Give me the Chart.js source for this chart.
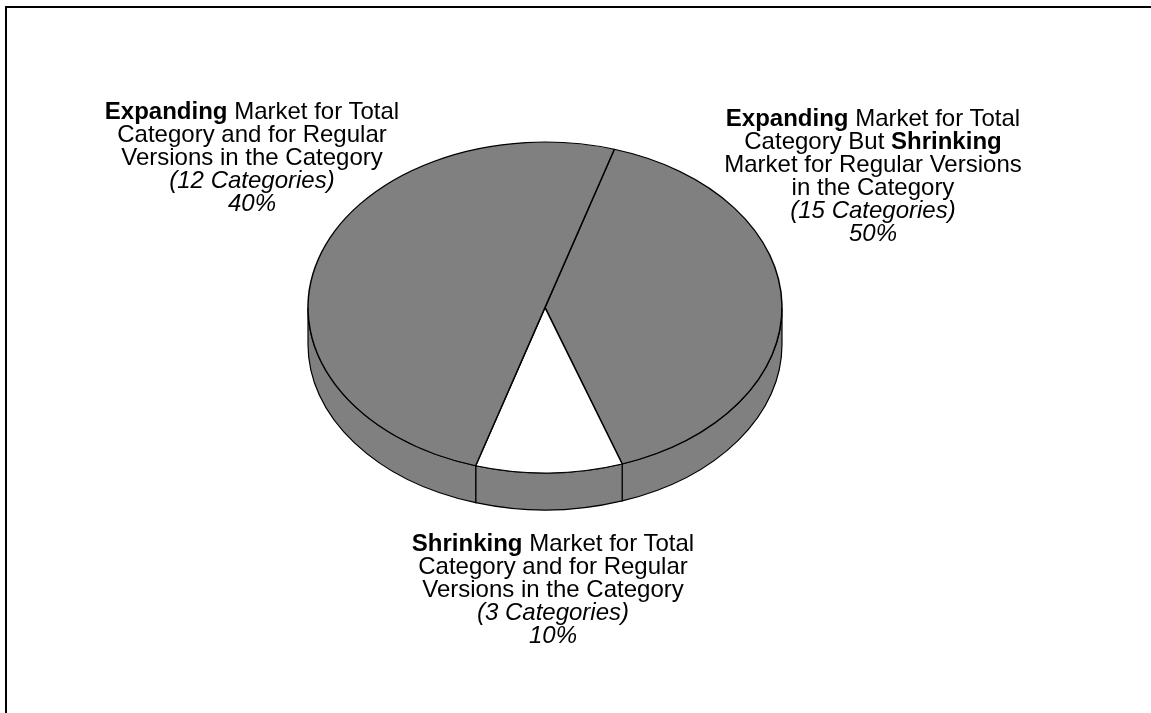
<!DOCTYPE html>
<html lang="en">
<head>
    <meta charset="UTF-8">
    <title>Market for Total Category vs Regular Versions</title>
    <script src="https://cdn.jsdelivr.net/npm/chart.js@4"></script>
    <style>
        body { margin: 0; padding: 0; background: #fff; font-family: "Liberation Sans", Arial, sans-serif; }
        #page { position: relative; width: 1151px; height: 713px; overflow: hidden; }
        #frame { position: absolute; left: 5px; top: 6px; width: 1200px; height: 800px; border-left: 2px solid #000; border-top: 2px solid #000; }
        #chartBox { position: absolute; left: 0; top: 0; width: 1151px; height: 713px; }
        .lbl { position: absolute; width: 360px; text-align: center; font-size: 24px; line-height: 23px; color: #000; white-space: nowrap; }
        .lbl i { font-style: italic; }
    </style>
</head>
<body>
<div id="page">
    <div id="frame"></div>
    <div id="chartBox"><canvas id="pie"></canvas></div>
</div>
<script>
    // slices in drawing order (clockwise from the upper right)
    var sliceNames = ['Expanding total, shrinking regular', 'Shrinking total and regular', 'Expanding total and regular'];
    // share of the circle each slice takes in the picture
    var sliceShares = [40, 10, 50];
    var sliceColors = ['#808080', '#ffffff', '#808080'];
    var categoryCounts = ['15 Categories', '3 Categories', '12 Categories'];
    var percentLabels = ['50%', '10%', '40%'];
    var labelLines = [
        '<b>Expanding</b> Market for Total<br>Category But <b>Shrinking</b><br>Market for Regular Versions<br>in the Category',
        '<b>Shrinking</b> Market for Total<br>Category and for Regular<br>Versions in the Category',
        '<b>Expanding</b> Market for Total<br>Category and for Regular<br>Versions in the Category'
    ];

    // label centres / tops
    var labelPos = [[873, 106], [553, 531], [252, 99]];

    var tilt = 0.698;
    var depth = 37;
    var wallColor = '#808080';

    var page = document.getElementById('page');
    labelLines.forEach(function (txt, i) {
        var d = document.createElement('div');
        d.className = 'lbl';
        d.style.left = (labelPos[i][0] - 180) + 'px';
        d.style.top = labelPos[i][1] + 'px';
        d.innerHTML = txt + '<br><i>(' + categoryCounts[i] + ')</i><br><i>' + percentLabels[i] + '</i>';
        page.appendChild(d);
    });

    var pie3d = {
        id: 'pie3d',
        beforeDatasetsDraw: function (chart) {
            var ctx = chart.ctx;
            var arcs = chart.getDatasetMeta(0).data;
            var cx = arcs[0].x, cy = arcs[0].y;
            var rx = arcs[0].outerRadius, ry = rx * tilt;
            ctx.save();
            ctx.lineWidth = 1.2;
            ctx.strokeStyle = '#000';
            ctx.fillStyle = wallColor;
            arcs.forEach(function (a) {
                for (var k = -1; k <= 2; k++) {
                    var s = Math.max(a.startAngle, 2 * Math.PI * k);
                    var e = Math.min(a.endAngle, 2 * Math.PI * k + Math.PI);
                    if (e <= s) continue;
                    ctx.beginPath();
                    ctx.ellipse(cx, cy, rx, ry, 0, s, e);
                    ctx.ellipse(cx, cy + depth, rx, ry, 0, e, s, true);
                    ctx.closePath();
                    ctx.fill();
                    ctx.stroke();
                }
            });
            ctx.restore();
            // squash the top face into an ellipse
            ctx.save();
            ctx.translate(cx, cy);
            ctx.scale(1, tilt);
            ctx.translate(-cx, -cy);
        },
        afterDatasetsDraw: function (chart) {
            chart.ctx.restore();
        }
    };

    new Chart(document.getElementById('pie'), {
        type: 'pie',
        data: {
            labels: sliceNames,
            datasets: [{
                data: sliceShares,
                backgroundColor: sliceColors,
                borderColor: '#000',
                borderWidth: 1.5,
                radius: 237
            }]
        },
        options: {
            responsive: true,
            maintainAspectRatio: false,
            animation: false,
            events: [],
            rotation: 17,
            layout: { padding: { left: 200, right: 261, top: 50, bottom: 148 } },
            plugins: { legend: { display: false }, tooltip: { enabled: false } }
        },
        plugins: [pie3d]
    });
</script>
</body>
</html>
